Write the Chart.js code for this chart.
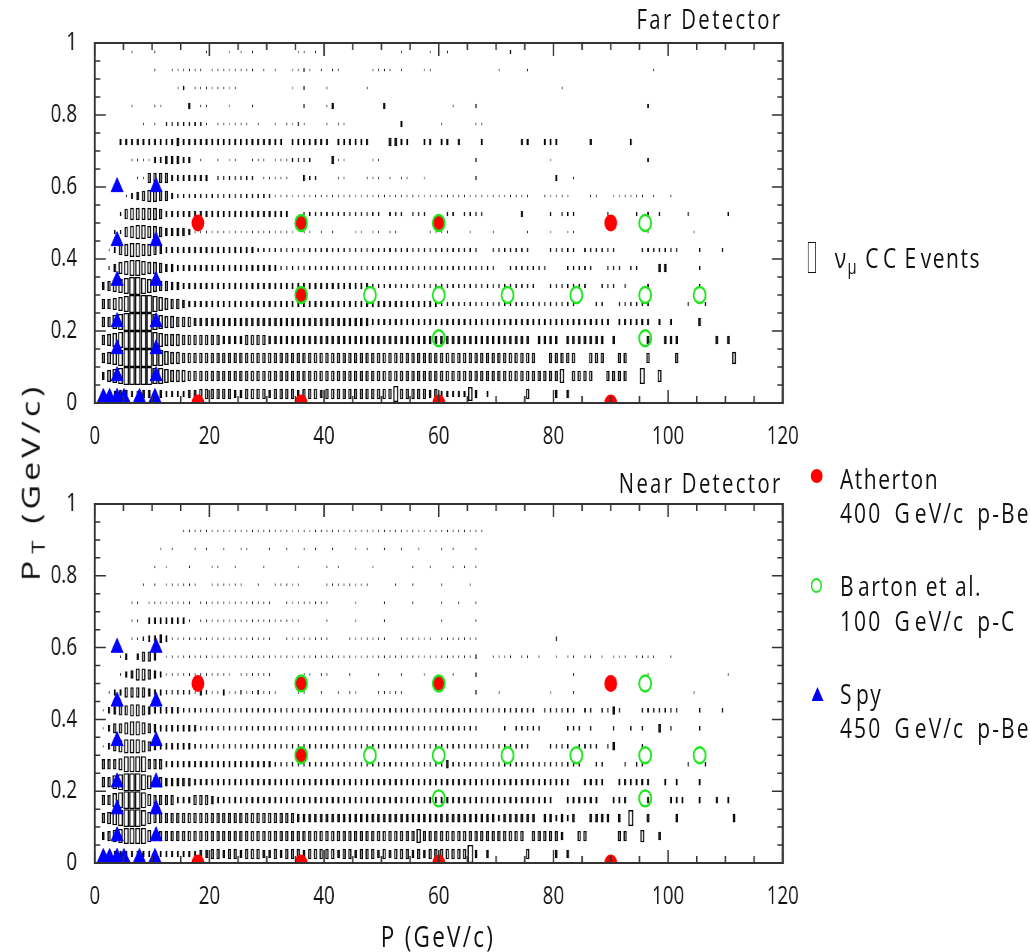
<!DOCTYPE html>
<html><head><meta charset="utf-8">
<script src="https://cdn.jsdelivr.net/npm/chart.js@4.4.1/dist/chart.umd.min.js"></script>
<style>
html,body{margin:0;padding:0;background:#fff;overflow:hidden;width:1030px;height:952px}
#page{position:absolute;left:0;top:0;width:1373.33px;height:952px;transform:scaleX(0.75);transform-origin:0 0;font-family:"Open Sans",sans-serif;color:#111}
canvas{position:absolute;left:0}
.t{position:absolute;white-space:nowrap;line-height:1}
.lg{font-size:28px;letter-spacing:2px;left:1120px}
.lw{letter-spacing:2.8px;word-spacing:6px}
.g{margin-right:4px}
sub{font-size:0.7em;vertical-align:-0.3em;line-height:0}
</style></head><body>
<div id="page">
<canvas id="farChart" width="1120" height="455" style="top:0px"></canvas>
<canvas id="nearChart" width="1120" height="460" style="top:460px"></canvas>
<div class="t" style="right:330px;top:5px;font-size:27px;letter-spacing:3.2px">Far Detector</div>
<div class="t" style="right:330px;top:469px;font-size:27px;letter-spacing:3.1px">Near Detector</div>
<div class="t" style="left:40px;top:482px;font-size:34px;letter-spacing:4px;transform:translate(-50%,-50%) rotate(-90deg)">P<sub style="margin-left:3px">T</sub> (GeV/c)</div>
<div class="t" style="left:584px;top:921px;font-size:30px;letter-spacing:3px;transform:translateX(-50%)">P (GeV/c)</div>
<div style="position:absolute;left:1077px;top:242px;width:9.3px;height:29px;border-style:solid;border-color:#111;border-width:1px 1.33px"></div>
<div class="t lg" style="left:1113px;top:243px">ν<sub>μ</sub> <span class="g">C</span>C <span class="g">E</span>vents</div>
<div style="position:absolute;left:1081px;top:469px;width:16px;height:14px;border-radius:50%;background:#ff0000"></div>
<div class="t lg" style="top:464px">Atherton</div>
<div class="t lg lw" style="top:498px">400 <span class="g">G</span>eV/c p-Be</div>
<div style="position:absolute;left:1081px;top:578px;width:11px;height:11px;border-radius:50%;border-style:solid;border-color:#1ee61e;border-width:2px 2.7px"></div>
<div class="t lg" style="top:571px"><span class="g">B</span>arton et al.</div>
<div class="t lg lw" style="top:606px">100 <span class="g">G</span>eV/c p-C</div>
<div style="position:absolute;left:1082px;top:687px;width:0;height:0;border-left:8px solid transparent;border-right:8px solid transparent;border-bottom:14px solid #0000ff"></div>
<div class="t lg" style="top:679px"><span class="g">S</span>py</div>
<div class="t lg lw" style="top:713px">450 <span class="g">G</span>eV/c p-Be</div>
</div>
<script>
// ---------------- data ----------------
const P_MIN = 0, P_MAX = 120, PT_MIN = 0, PT_MAX = 1;
const pBinWidth = 1, ptBinWidth = 0.05;
const xTickLabels = ['0', '20', '40', '60', '80', '100', '120'];
const yTickLabels = ['0', '0.2', '0.4', '0.6', '0.8', '1'];

// nu_mu CC events: relative box size (1..9) per P bin (1 GeV), rows listed from PT 0.95-1.00 down to 0-0.05
const farBoxRows = [
"......1... 1........1 ...1.1.1.. .....11.1. .......... ...1....1. .1........ ..2....... .......... .......... .......... ..........",
".......... 1..111111. 11111111.1 .1..1121.1 .11.....11 11.1...11. .......... 1....1.... .......... .......1.. .......... ..........",
".......... ....12.111 11111..... ....1.2... 1......1.. .......... .......... .......... .1........ .......... .......... ..........",
"......1... 11....3.11 ...1...1.. ......2... 13........ 3......... ..1...2... .......... .......... ......2... .......... ..........",
"........1. 1.22222221 .111111.1. .1.1121... 1.11...... ...3...... 1.....11.. .......... .......... .......... .......... ..........",
"....333333 3333433333 3333333333 333.333333 3.333333.. .4433..33. 33.3...3.. ....33..33 3.....3... ...3...... .......... ..........",
"......1111 3344433.1. .1.11..111 .1112222.. .411....11 .......... ......2... .........1 .......... ......2... .......... ..........",
".......115 5553333333 .2222222.1 1111..322. ..11...111 .1.11..1.. ......2... .......... 3..1...... .......... .......... ..........",
".....13456 6553222222 2222222222 2111111111 1111111111 1111111111 1111111111 111111..11 111...11.. 111111.1.. 1......... ..........",
"....256666 6533333333 3333333333 3333..2222 2222222222 .222.222.. .22.2222.. ....3....2 .222.....2 ....2.2.2. ...2...... 2.........",
"...2256776 6544443111 1111111111 11111.11.1 .1...11.11 .11.....11 11...1...1 .....1...1 ..11...... ......1... ....1..... ..........",
"..13567766 5433333333 3333333322 2222222222 2222222222 2222222222 2222222..2 222222...2 2222.22222 2....22222 22...2...2 ..........",
"..24678876 6544333333 3333333333 3322222222 2222222222 2222222222 2222222222 ..2222222. ..22222..2 22.22...44 .....2.... ..........",
".456789987 6554433333 3333333333 3333333333 3333333322 2222222222 2222222222 2222222..2 222222..22 2.2...2... .....2.... ..........",
".556789999 8765543333 3333333333 3333333333 3333333333 3333333333 2222222222 2222222222 2222...22. .222222... ...2..2... ..........",
".557899999 8766555444 4444444444 4444444444 4444444433 3333333333 3333333333 3333333333 3333333333 .333333.3. 3....4.... ..........",
".567899999 8766655555 5544445555 4444444444 4444444444 4444444444 4444444444 444444.444 4.4444444. 4.....4..4 44......4. 4.........",
".567899999 8876655555 5555555555 5555555555 5555555555 5555555555 5555555555 5555555..5 5555..555. .55...5... .5........ .6........",
".467899999 8876665555 5555555555 5555555555 5555555555 5555555555 5555555555 5555555555 57.5555..5 555..8..6. .......... ..........",
".333443344 4433334455 5555445555 4555545554 5555555555 5585555545 3333374.3. .....5.... 4.4....... .......... .......... .........."
];
const nearBoxRows = [
".......... .......... .......... .......... .......... .......... .......... .......... .......... .......... .......... ..........",
".......... .....11111 1111111111 1111111111 1111111111 1111111111 11111111.. .......... .......... .......... .......... ..........",
".......... .1.1...1.1 ..1..11... 1..1..1.1. .1...1.1.. 1..1..1... 1.1...1... .......... .......... .......... .......... ..........",
".......... 1.1...1... 11..1....1 .....1.... 1.1.....1. .....1..1. ..1.1.1... .......... .......... .......... .......... ..........",
"........1. 1.111111.. 111111..1. .11111.... 11111111.. ..1..1.... 1....1.... .......... .......... .......... .......... ..........",
"......11.1 1111111.11 1111111111 1..1111111 1....1.... 1....1.... 1..1..1... .......... .......... .......... .......... ..........",
"......11.3 3333331.11 1111111111 111111.... 1....1.... 1......... 1.....1... .......... .......... .......... .......... ..........",
"......1123 3431111111 1111111111 1..1111111 1...111111 1..111111. 1111111... .......... 2......... .......... .......... ..........",
"....13.355 4.11111111 1111111111 1111111111 1111111111 1111111111 1111112..1 111.11.1.. 1.11.11.1. 111.1111.. 1......... ..........",
"....134665 4311111111 1111.11111 1.....11.1 1...1....1 ...1...1.. ..1...2... .......... ...1...... ......1... .......... 1.........",
"..13355554 3322222132 1131121121 11...11..1 ..1.11...1 1111...... ......2... 1........1 ...1...... .......... ....1..... ..........",
".134556654 3333322222 2222222222 2222222222 2222222222 2222222222 2222222222 2222222.22 2222.22.22 42...22222 22...2...2 ..........",
".135567765 4333333322 2222222222 2222222222 2222222222 2222222222 2222222... .2.22222.. ..222.2... 2..2.2..4. 2....2.... ..........",
".135677765 4333333222 2222222222 2222222222 2222222222 2222222222 2222222222 222222...2 222.2222.2 4....2.... .......... ..........",
".555688885 5533333333 3333333333 3222222222 2222222222 2222222222 2422222222 2222222222 22222..22. ..2.22.... ...2..2... ..........",
".557899987 5544444333 3333333333 3333333333 3333333333 3333333333 3333333333 3333333333 333..3333. .333333..3 .3...3.... ..........",
".557899986 5555333555 4333333333 3333333333 3333333333 3333333333 3333333333 3333333333 ..333333.. 333...3... 333..3..3. 3.........",
".567899986 5555555555 5555555555 5555544444 4444444444 4444444444 4444444444 3444444.44 3434..4444 .4.8..4... .4........ .4........",
".456788886 5555555555 5555555555 5555555555 5555555555 5555557555 5555555555 55555.5555 54..55.... .55..6..4. .......... ..........",
".333333333 3333333344 5545545554 4545554555 5545545554 5455545455 5555594.4. .....5.... 4.4....... .......... .......... .........."
];

// Atherton 400 GeV/c p-Be
const athertonP  = [18, 36, 60, 90, 36, 18, 36, 60, 90];
const athertonPT = [0.5, 0.5, 0.5, 0.5, 0.3, 0, 0, 0, 0];
// Barton et al. 100 GeV/c p-C
const bartonP  = [36, 60, 96, 36, 48, 60, 72, 84, 96, 105.5, 60, 96];
const bartonPT = [0.5, 0.5, 0.5, 0.3, 0.3, 0.3, 0.3, 0.3, 0.3, 0.3, 0.18, 0.18];
// Spy 450 GeV/c p-Be
const spyP  = [3.9, 3.9, 3.9, 3.9, 3.9, 3.9, 10.7, 10.7, 10.7, 10.7, 10.7, 10.7, 1.5, 2.6, 3.9, 5.1, 7.8, 10.5];
const spyPT = [0.6, 0.45, 0.34, 0.225, 0.15, 0.075, 0.6, 0.45, 0.34, 0.225, 0.15, 0.075, 0.015, 0.015, 0.015, 0.015, 0.015, 0.015];

// ---------------- drawing ----------------
const SQ = 0.75; // horizontal squeeze of the page
Chart.defaults.font.family = '"Open Sans", sans-serif';
Chart.defaults.color = '#111';

function toPoints(px, py) { return px.map((v, i) => ({x: v, y: py[i]})); }
function boxFraction(lv) { return (lv + 0.5) / 9.5; }

function boxDatasets(rows) {
  const grid = rows.map(r => r.replace(/ /g, '').padEnd(120, '.').slice(0, 120)).reverse();
  const sets = [];
  for (let lv = 1; lv <= 9; lv++) {
    const f = boxFraction(lv);
    const data = [];
    grid.forEach((row, j) => {
      for (let i = 0; i < row.length; i++) {
        if (row.charCodeAt(i) - 48 === lv) {
          const xc = P_MIN + (i + 0.5) * pBinWidth;
          const yc = PT_MIN + (j + 0.5) * ptBinWidth;
          const h = 0.5 * ptBinWidth * f;
          data.push({x: xc, y: [yc - h, yc + h]});
        }
      }
    });
    sets.push({
      type: 'bar', data, order: 10,
      barPercentage: f, categoryPercentage: 1, grouped: false,
      borderSkipped: false, inflateAmount: 0, borderRadius: 0,
      borderWidth: {top: 1.3, bottom: 1.3, left: 1.3 / SQ, right: 1.3 / SQ},
      borderColor: '#000', backgroundColor: 'rgba(0,0,0,0)'
    });
  }
  return sets;
}

function markerDatasets() {
  return [
    {type: 'scatter', data: toPoints(athertonP, athertonPT), order: 3, clip: 0,
     pointStyle: 'circle', pointRadius: 8.5, pointBackgroundColor: '#ff0000', pointBorderColor: '#ff0000', pointBorderWidth: 0},
    {type: 'scatter', data: toPoints(bartonP, bartonPT), order: 2, clip: 0,
     pointStyle: 'circle', pointRadius: 8, pointBackgroundColor: 'rgba(0,0,0,0)', pointBorderColor: '#1ee61e', pointBorderWidth: 2.4},
    {type: 'scatter', data: toPoints(spyP, spyPT), order: 1, clip: false,
     pointStyle: 'triangle', pointRadius: 9.3, pointBackgroundColor: '#0000ff', pointBorderColor: '#0000ff', pointBorderWidth: 1}
  ];
}

const frameTicks = {
  id: 'frameTicks',
  afterDraw(chart) {
    const {ctx, chartArea: a, scales: {x, y}} = chart;
    ctx.save();
    ctx.strokeStyle = '#333';
    ctx.lineWidth = 1.5 / SQ;
    ctx.beginPath();
    for (let p = P_MIN; p <= P_MAX; p += 5) {
      const px = x.getPixelForValue(p);
      const len = p % 20 === 0 ? 13 : 7;
      ctx.moveTo(px, a.bottom); ctx.lineTo(px, a.bottom - len);
      ctx.moveTo(px, a.top); ctx.lineTo(px, a.top + len);
    }
    ctx.stroke();
    ctx.lineWidth = 1.5;
    ctx.beginPath();
    for (let k = 0; k <= 20; k++) {
      const py = y.getPixelForValue(PT_MIN + k * 0.05);
      const len = (k % 4 === 0 ? 11 : 5.5) / SQ;
      ctx.moveTo(a.left, py); ctx.lineTo(a.left + len, py);
      ctx.moveTo(a.right, py); ctx.lineTo(a.right - len, py);
    }
    ctx.stroke();
    ctx.fillStyle = '#333';
    const vw = 2 / SQ, hw = 2;
    ctx.fillRect(a.left - vw / 2, a.top - hw / 2, vw, a.bottom - a.top + hw);
    ctx.fillRect(a.right - vw / 2, a.top - hw / 2, vw, a.bottom - a.top + hw);
    ctx.fillRect(a.left - vw / 2, a.top - hw / 2, a.right - a.left + vw, hw);
    ctx.fillRect(a.left - vw / 2, a.bottom - hw / 2, a.right - a.left + vw, hw);
    ctx.restore();
  }
};

function makePanel(id, rows, padTop, xAxisH, canvasW) {
  const frameRight = 1043.7;
  return new Chart(document.getElementById(id), {
    type: 'bar',
    data: {datasets: [...boxDatasets(rows), ...markerDatasets()]},
    options: {
      responsive: false, animation: false, devicePixelRatio: 1,
      layout: {padding: {left: 0, top: padTop, right: canvasW - frameRight, bottom: 0}},
      plugins: {legend: {display: false}, tooltip: {enabled: false}},
      scales: {
        x: {
          type: 'linear', min: P_MIN, max: P_MAX, offset: false,
          grid: {display: false, offset: false, drawTicks: false},
          border: {display: false},
          ticks: {stepSize: 20, autoSkip: false, maxRotation: 0, padding: 19,
                  font: {size: 25}, color: '#111', callback: (v, i) => xTickLabels[i]},
          afterFit: s => { s.height = xAxisH; }
        },
        y: {
          type: 'linear', min: PT_MIN, max: PT_MAX,
          grid: {display: false, drawTicks: false},
          border: {display: false},
          ticks: {stepSize: 0.2, autoSkip: false, padding: 23.6,
                  font: {size: 25}, color: '#111', callback: (v, i) => yTickLabels[i]},
          afterFit: s => { s.width = 126.3; }
        }
      }
    },
    plugins: [frameTicks]
  });
}

makePanel('farChart', farBoxRows, 43, 52, 1120);
makePanel('nearChart', nearBoxRows, 44, 57, 1120);
</script>
</body></html>
